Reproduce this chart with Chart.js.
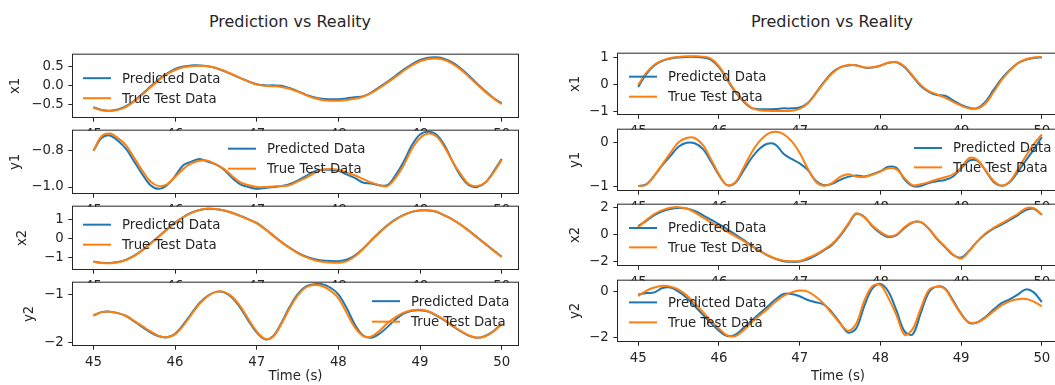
<!DOCTYPE html>
<html>
<head>
<meta charset="utf-8">
<script src="https://cdn.jsdelivr.net/npm/chart.js@4/dist/chart.umd.min.js"></script>
<style>
  html, body { margin: 0; padding: 0; background: #fff; }
  body { position: relative; width: 1055px; height: 385px; overflow: hidden; font-family: "DejaVu Sans", sans-serif; }
  canvas { position: absolute; }
  .suptitle { position: absolute; top: 13px; font-size: 16px; line-height: 18px; color: #262626; white-space: nowrap; transform: translateX(-50%); }
</style>
</head>
<body>
<div class="suptitle" style="left:290px">Prediction vs Reality</div>
<div class="suptitle" style="left:832px">Prediction vs Reality</div>
<script>
// time samples (s)
var times = [45.0, 45.1, 45.2, 45.3, 45.4, 45.5, 45.6, 45.7, 45.8, 45.9,
             46.0, 46.1, 46.2, 46.3, 46.4, 46.5, 46.6, 46.7, 46.8, 46.9,
             47.0, 47.1, 47.2, 47.3, 47.4, 47.5, 47.6, 47.7, 47.8, 47.9,
             48.0, 48.1, 48.2, 48.3, 48.4, 48.5, 48.6, 48.7, 48.8, 48.9,
             49.0, 49.1, 49.2, 49.3, 49.4, 49.5, 49.6, 49.7, 49.8, 49.9,
             50.0];

var seriesNames = ['Predicted Data', 'True Test Data'];

// left figure
var predLX1 = [-0.57, -0.64, -0.66, -0.63, -0.54, -0.40, -0.22, -0.03, 0.15, 0.31,
               0.43, 0.49, 0.52, 0.52, 0.50, 0.45, 0.37, 0.28, 0.19, 0.10,
               0.03, 0.00, 0.00, -0.01, -0.07, -0.15, -0.24, -0.31, -0.35, -0.36,
               -0.36, -0.34, -0.31, -0.29, -0.19, -0.05, 0.09, 0.25, 0.41, 0.55,
               0.66, 0.72, 0.73, 0.69, 0.59, 0.44, 0.25, 0.04, -0.15, -0.33,
               -0.47];
var trueLX1 = [-0.58, -0.65, -0.67, -0.64, -0.56, -0.42, -0.24, -0.05, 0.13, 0.29,
               0.40, 0.47, 0.50, 0.51, 0.50, 0.46, 0.38, 0.29, 0.19, 0.10,
               0.02, -0.01, -0.02, -0.04, -0.09, -0.16, -0.25, -0.33, -0.38, -0.40,
               -0.40, -0.38, -0.35, -0.30, -0.20, -0.07, 0.07, 0.22, 0.38, 0.52,
               0.63, 0.69, 0.70, 0.66, 0.56, 0.41, 0.22, 0.02, -0.17, -0.34,
               -0.49];
var predLY1 = [-0.80, -0.73, -0.715, -0.745, -0.79, -0.86, -0.93, -0.99, -1.01, -0.99,
               -0.94, -0.88, -0.86, -0.845, -0.86, -0.875, -0.905, -0.95, -0.985, -1.0,
               -1.01, -1.005, -1.0, -0.995, -0.985, -0.965, -0.94, -0.915, -0.905, -0.905,
               -0.91, -0.93, -0.95, -0.975, -0.98, -0.99, -0.99, -0.935, -0.86, -0.77,
               -0.71, -0.695, -0.71, -0.77, -0.86, -0.94, -0.99, -1.0, -0.975, -0.915,
               -0.845];
var trueLY1 = [-0.80, -0.72, -0.705, -0.73, -0.77, -0.84, -0.91, -0.97, -0.995, -0.985,
               -0.945, -0.90, -0.87, -0.855, -0.855, -0.875, -0.90, -0.94, -0.975, -0.99,
               -1.0, -1.0, -0.997, -0.995, -0.99, -0.97, -0.95, -0.925, -0.905, -0.90,
               -0.905, -0.92, -0.935, -0.955, -0.975, -0.99, -0.995, -0.95, -0.88, -0.79,
               -0.73, -0.705, -0.72, -0.78, -0.86, -0.93, -0.985, -0.995, -0.975, -0.92,
               -0.85];
var predLX2 = [-1.21, -1.28, -1.29, -1.24, -1.11, -0.90, -0.61, -0.26, 0.10, 0.47,
               0.82, 1.11, 1.34, 1.48, 1.54, 1.52, 1.45, 1.33, 1.17, 0.99,
               0.80, 0.50, 0.16, -0.18, -0.48, -0.74, -0.94, -1.08, -1.15, -1.18,
               -1.19, -1.12, -0.90, -0.54, -0.11, 0.30, 0.68, 0.99, 1.22, 1.38,
               1.45, 1.45, 1.38, 1.19, 0.98, 0.71, 0.39, 0.05, -0.29, -0.63,
               -0.96];
var trueLX2 = [-1.22, -1.29, -1.30, -1.25, -1.13, -0.92, -0.63, -0.28, 0.08, 0.45,
               0.80, 1.10, 1.33, 1.48, 1.55, 1.53, 1.45, 1.32, 1.16, 0.98,
               0.78, 0.48, 0.14, -0.20, -0.50, -0.77, -0.98, -1.13, -1.22, -1.26,
               -1.27, -1.20, -0.95, -0.57, -0.13, 0.28, 0.66, 0.97, 1.21, 1.38,
               1.46, 1.47, 1.40, 1.20, 0.98, 0.70, 0.38, 0.04, -0.30, -0.64,
               -0.97];
var predLY2 = [-1.44, -1.37, -1.36, -1.39, -1.45, -1.56, -1.68, -1.79, -1.87, -1.89,
               -1.82, -1.63, -1.40, -1.18, -1.03, -0.95, -0.96, -1.07, -1.28, -1.55,
               -1.79, -1.93, -1.87, -1.60, -1.27, -1.00, -0.84, -0.79, -0.79, -0.86,
               -1.00, -1.28, -1.62, -1.85, -1.90, -1.82, -1.68, -1.52, -1.40, -1.34,
               -1.33, -1.36, -1.44, -1.54, -1.66, -1.77, -1.86, -1.90, -1.86, -1.76,
               -1.61];
var trueLY2 = [-1.44, -1.37, -1.36, -1.39, -1.45, -1.55, -1.66, -1.77, -1.86, -1.89,
               -1.83, -1.65, -1.42, -1.20, -1.04, -0.95, -0.95, -1.05, -1.25, -1.52,
               -1.77, -1.92, -1.88, -1.62, -1.30, -1.03, -0.86, -0.81, -0.83, -0.92,
               -1.08, -1.38, -1.68, -1.86, -1.88, -1.76, -1.60, -1.47, -1.38, -1.33,
               -1.32, -1.35, -1.43, -1.53, -1.65, -1.76, -1.85, -1.90, -1.87, -1.77,
               -1.62];

// right figure
var predRX1 = [-0.10, 0.38, 0.70, 0.87, 0.96, 1.00, 1.02, 1.02, 1.00, 0.92,
               0.64, 0.18, -0.28, -0.63, -0.88, -0.93, -0.93, -0.92, -0.90, -0.90,
               -0.87, -0.70, -0.33, 0.08, 0.43, 0.63, 0.70, 0.71, 0.62, 0.62,
               0.69, 0.80, 0.82, 0.63, 0.29, -0.07, -0.28, -0.40, -0.43, -0.60,
               -0.77, -0.88, -0.89, -0.66, -0.22, 0.20, 0.52, 0.78, 0.91, 0.98,
               1.00];
var trueRX1 = [-0.02, 0.42, 0.73, 0.89, 0.98, 1.02, 1.04, 1.04, 1.03, 0.96,
               0.68, 0.22, -0.25, -0.60, -0.87, -0.97, -0.99, -1.00, -1.00, -0.99,
               -0.92, -0.72, -0.35, 0.05, 0.40, 0.62, 0.72, 0.70, 0.63, 0.63,
               0.70, 0.80, 0.83, 0.66, 0.32, -0.03, -0.26, -0.38, -0.50, -0.66,
               -0.80, -0.90, -0.91, -0.72, -0.30, 0.15, 0.50, 0.78, 0.93, 1.00,
               1.02];
var predRY1 = [-1.00, -0.96, -0.76, -0.52, -0.31, -0.10, -0.01, -0.02, -0.15, -0.43,
               -0.75, -0.98, -0.93, -0.66, -0.37, -0.15, -0.03, -0.05, -0.26, -0.38,
               -0.48, -0.63, -0.88, -0.98, -0.95, -0.86, -0.79, -0.76, -0.78, -0.73,
               -0.66, -0.56, -0.58, -0.85, -1.00, -1.00, -0.93, -0.89, -0.86, -0.78,
               -0.60, -0.42, -0.42, -0.64, -0.90, -0.99, -0.92, -0.68, -0.42, -0.16,
               0.12];
var trueRY1 = [-1.00, -0.97, -0.76, -0.50, -0.24, 0.00, 0.10, 0.10, -0.06, -0.38,
               -0.73, -0.98, -0.92, -0.60, -0.25, 0.02, 0.19, 0.24, 0.19, 0.03,
               -0.24, -0.60, -0.90, -0.99, -0.93, -0.79, -0.73, -0.78, -0.79, -0.74,
               -0.67, -0.59, -0.62, -0.82, -0.98, -0.96, -0.91, -0.85, -0.80, -0.73,
               -0.58, -0.36, -0.40, -0.63, -0.88, -0.99, -0.90, -0.62, -0.32, -0.04,
               0.18];
var predRX2 = [0.60, 1.00, 1.42, 1.70, 1.86, 1.93, 1.90, 1.72, 1.42, 1.08,
               0.75, 0.40, 0.02, -0.38, -0.80, -1.18, -1.52, -1.78, -1.95, -2.00,
               -1.98, -1.82, -1.52, -1.16, -0.76, -0.12, 0.70, 1.50, 1.30, 0.60,
               0.10, -0.18, -0.05, 0.48, 0.88, 0.90, 0.42, -0.32, -0.92, -1.50,
               -1.68, -1.18, -0.50, 0.02, 0.42, 0.72, 1.05, 1.40, 1.78, 1.88,
               1.44];
var trueRX2 = [0.54, 1.05, 1.50, 1.78, 1.95, 2.00, 1.90, 1.62, 1.25, 0.90,
               0.55, 0.22, -0.12, -0.45, -0.84, -1.18, -1.50, -1.75, -1.91, -1.95,
               -1.93, -1.72, -1.45, -1.10, -0.70, -0.05, 0.78, 1.55, 1.25, 0.66,
               0.19, -0.12, 0.00, 0.54, 0.90, 0.90, 0.42, -0.28, -0.87, -1.46,
               -1.76, -1.22, -0.52, 0.07, 0.48, 0.82, 1.15, 1.50, 1.90, 1.93,
               1.44];
var predRY2 = [-0.15, -0.08, -0.05, 0.14, 0.16, -0.02, -0.28, -0.65, -1.02, -1.38,
               -1.72, -1.95, -1.90, -1.62, -1.30, -0.98, -0.68, -0.36, -0.12, -0.12,
               -0.22, -0.38, -0.48, -0.58, -0.92, -1.38, -1.80, -1.62, -0.65, 0.12,
               0.32, -0.02, -0.85, -1.75, -1.88, -0.95, -0.05, 0.20, 0.12, -0.40,
               -0.98, -1.38, -1.36, -1.12, -0.80, -0.52, -0.36, -0.15, 0.08, -0.05,
               -0.47];
var trueRY2 = [-0.21, 0.02, 0.16, 0.24, 0.20, 0.07, -0.18, -0.52, -0.90, -1.28,
               -1.62, -1.92, -1.96, -1.72, -1.38, -1.07, -0.78, -0.46, -0.20, -0.05,
               0.03, -0.02, -0.24, -0.55, -0.98, -1.40, -1.72, -1.42, -0.42, 0.22,
               0.27, -0.30, -1.05, -1.90, -1.65, -0.75, 0.05, 0.20, 0.10, -0.45,
               -1.00, -1.36, -1.35, -1.16, -0.88, -0.62, -0.44, -0.35, -0.34, -0.45,
               -0.66];

// tick values and their labels
var xTicks = [45, 46, 47, 48, 49, 50];
var xTickText = ['45', '46', '47', '48', '49', '50'];
var yTicksLX1 = [-0.5, 0, 0.5],   yTextLX1 = ['\u22120.5', '0.0', '0.5'];
var yTicksLY1 = [-1.0, -0.8],     yTextLY1 = ['\u22121.0', '\u22120.8'];
var yTicksLX2 = [-1, 0, 1],       yTextLX2 = ['\u22121', '0', '1'];
var yTicksLY2 = [-2, -1],         yTextLY2 = ['\u22122', '\u22121'];
var yTicksRX1 = [-1, 0, 1],       yTextRX1 = ['\u22121', '0', '1'];
var yTicksRY1 = [-1, 0],          yTextRY1 = ['\u22121', '0'];
var yTicksRX2 = [-2, 0, 2],       yTextRX2 = ['\u22122', '0', '2'];
var yTicksRY2 = [-2, 0],          yTextRY2 = ['\u22122', '0'];

var BLUE = '#1f77b4', ORANGE = '#ff7f0e', INK = '#262626';
var FS = 13.3;
var PAD_TOP = 10, PAD_RIGHT = 10;

Chart.defaults.font.family = '"DejaVu Sans"';
Chart.defaults.color = INK;

// axes frame + white axes patch
var framePlugin = {
    id: 'frame',
    beforeDraw: function (chart) {
        var a = chart.chartArea, c = chart.ctx;
        c.save();
        c.fillStyle = '#fff';
        c.fillRect(a.left, a.top, a.right - a.left, a.bottom - a.top);
        c.restore();
    },
    afterDraw: function (chart) {
        var a = chart.chartArea, c = chart.ctx;
        c.save();
        c.strokeStyle = INK;
        c.lineWidth = 1;
        c.strokeRect(a.left - 0.5, a.top - 0.5, a.right - a.left + 1, a.bottom - a.top + 1);
        c.restore();
    }
};

// frameless legend drawn inside the axes
var inLegend = {
    id: 'inLegend',
    afterDatasetsDraw: function (chart, args, o) {
        var a = chart.chartArea, c = chart.ctx;
        c.save();
        c.font = FS + 'px "DejaVu Sans"';
        c.textBaseline = 'middle';
        chart.data.datasets.forEach(function (ds, i) {
            var y = a.top + o.rows[i];
            c.strokeStyle = ds.borderColor;
            c.lineWidth = 2;
            c.beginPath();
            c.moveTo(a.left + o.x, y);
            c.lineTo(a.left + o.x + 28, y);
            c.stroke();
            c.fillStyle = INK;
            c.fillText(ds.label, a.left + o.x + 39, y + 1);
        });
        c.restore();
    }
};

function points(vals) {
    return times.map(function (t, i) { return { x: t, y: vals[i] }; });
}

var subplots = [
    { x0: 73, w: 445, top: 52, h: 65, labelX: 16, name: 'x1', yMin: -0.825, yMax: 0.8, yTicks: yTicksLX1, yText: yTextLX1, pred: predLX1, truth: trueLX1, leg: { x: 10, rows: [23.5, 43.5] } },
    { x0: 73, w: 445, top: 128, h: 65, labelX: 16, name: 'y1', yMin: -1.033, yMax: -0.689, yTicks: yTicksLY1, yText: yTextLY1, pred: predLY1, truth: trueLY1, leg: { x: 155, rows: [18, 38] } },
    { x0: 73, w: 445, top: 204, h: 65, labelX: 23, name: 'x2', yMin: -1.6, yMax: 1.65, yTicks: yTicksLX2, yText: yTextLX2, pred: predLX2, truth: trueLX2, leg: { x: 10, rows: [18, 38] } },
    { x0: 73, w: 445, top: 280, h: 65, labelX: 30, name: 'y2', yMin: -2.05, yMax: -0.76, yTicks: yTicksLY2, yText: yTextLY2, pred: predLY2, truth: trueLY2, leg: { x: 299, rows: [18.5, 39] }, bottom: true },
    { x0: 618, w: 440, top: 51, h: 63, labelX: 576, name: 'x1', yMin: -1.11, yMax: 1.14, yTicks: yTicksRX1, yText: yTextRX1, pred: predRX1, truth: trueRX1, leg: { x: 11, rows: [23, 43] } },
    { x0: 618, w: 440, top: 127, h: 63, labelX: 576, name: 'y1', yMin: -1.09, yMax: 0.29, yTicks: yTicksRY1, yText: yTextRY1, pred: predRY1, truth: trueRY1, leg: { x: 296, rows: [18.3, 37.7] } },
    { x0: 618, w: 440, top: 202, h: 63, labelX: 576, name: 'x2', yMin: -2.23, yMax: 2.18, yTicks: yTicksRX2, yText: yTextRX2, pred: predRX2, truth: trueRX2, leg: { x: 11, rows: [23.3, 42.7] } },
    { x0: 618, w: 440, top: 278, h: 63, labelX: 576, name: 'y2', yMin: -2.17, yMax: 0.46, yTicks: yTicksRY2, yText: yTextRY2, pred: predRY2, truth: trueRY2, leg: { x: 11, rows: [21.7, 41.7] }, bottom: true }
];

subplots.forEach(function (sp) {
    var left = sp.labelX - 8;
    var yw = sp.x0 - left;
    var xh = sp.bottom ? 386 - (sp.top + sp.h) : 30;
    var cv = document.createElement('canvas');
    cv.width = yw + sp.w + PAD_RIGHT;
    cv.height = PAD_TOP + sp.h + xh;
    cv.style.left = left + 'px';
    cv.style.top = (sp.top - PAD_TOP) + 'px';
    cv.style.width = cv.width + 'px';
    cv.style.height = cv.height + 'px';
    document.body.appendChild(cv);

    new Chart(cv.getContext('2d'), {
        type: 'line',
        data: {
            datasets: [
                { label: seriesNames[0], data: points(sp.pred), borderColor: BLUE, order: 2 },
                { label: seriesNames[1], data: points(sp.truth), borderColor: ORANGE, order: 1 }
            ]
        },
        options: {
            responsive: false,
            animation: false,
            events: [],
            layout: { padding: { left: 0, top: PAD_TOP, right: PAD_RIGHT, bottom: 0 } },
            elements: {
                line: { borderWidth: 2, tension: 0.35, fill: false },
                point: { radius: 0 }
            },
            plugins: {
                legend: { display: false },
                tooltip: { enabled: false },
                inLegend: sp.leg
            },
            scales: {
                x: {
                    type: 'linear',
                    min: 44.75,
                    max: 50.2,
                    afterBuildTicks: function (s) { s.ticks = xTicks.map(function (v) { return { value: v }; }); },
                    afterFit: function (s) { s.height = xh; },
                    ticks: {
                        autoSkip: false, maxRotation: 0, padding: 4.7,
                        font: { size: FS }, color: INK,
                        callback: function (v) { return xTickText[xTicks.indexOf(v)]; }
                    },
                    grid: { drawOnChartArea: false, drawTicks: true, tickLength: 4.7, tickColor: INK, tickWidth: 1 },
                    border: { display: false },
                    title: { display: !!sp.bottom, text: 'Time (s)', font: { size: FS }, color: INK, padding: { top: 0, bottom: 1 } }
                },
                y: {
                    min: sp.yMin,
                    max: sp.yMax,
                    afterBuildTicks: function (s) { s.ticks = sp.yTicks.map(function (v) { return { value: v }; }); },
                    afterFit: function (s) { s.width = yw; },
                    ticks: {
                        padding: 4.7, font: { size: FS }, color: INK,
                        callback: function (v, i) { return sp.yText[i]; }
                    },
                    grid: { drawOnChartArea: false, drawTicks: true, tickLength: 4.7, tickColor: INK, tickWidth: 1 },
                    border: { display: false },
                    title: { display: true, text: sp.name, font: { size: FS }, color: INK, padding: { top: 0, bottom: 0 } }
                }
            }
        },
        plugins: [framePlugin, inLegend]
    });
});
</script>
</body>
</html>
